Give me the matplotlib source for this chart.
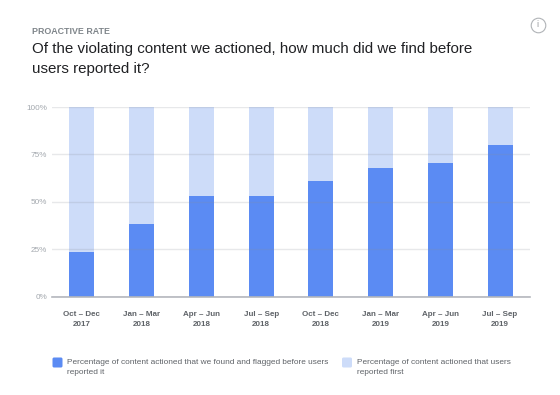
import matplotlib
matplotlib.use("Agg")
import matplotlib.pyplot as plt
from matplotlib.lines import Line2D
from matplotlib.patches import FancyBboxPatch
from matplotlib.transforms import IdentityTransform

plt.rcParams['font.family'] = ['Liberation Sans', 'DejaVu Sans']

# Quarter labels and values
quarters = ["Oct – Dec\n2017", "Jan – Mar\n2018", "Apr – Jun\n2018", "Jul – Sep\n2018",
            "Oct – Dec\n2018", "Jan – Mar\n2019", "Apr – Jun\n2019", "Jul – Sep\n2019"]
found_first = [23.6, 38, 53, 53, 60.7, 68, 70.6, 80]
reported_first = [76.4, 62, 47, 47, 39.3, 32, 29.4, 20]
y_ticks = [0, 25, 50, 75, 100]
y_labels = ["0%", "25%", "50%", "75%", "100%"]

W, H = 560, 395
dark_blue = "#5b8bf3"
light_blue = "#cddcf9"

fig = plt.figure(figsize=(W / 100, H / 100), dpi=100)
ax = fig.add_axes([52 / W, 1 - 296.5 / H, 478 / W, 189.5 / H])

x = list(range(len(quarters)))
ax.bar(x, found_first, width=0.42, color=dark_blue, zorder=2)
ax.bar(x, reported_first, width=0.42, bottom=found_first, color=light_blue, zorder=2)

ax.set_xlim(-0.5, 7.5)
ax.set_ylim(0, 100)
ax.set_yticks(y_ticks)
ax.set_yticklabels(y_labels, fontsize=5.9, color="#a3a8ae")
ax.set_xticks(x)
ax.set_xticklabels(quarters, fontsize=5.8, fontweight="bold", color="#5f6368", linespacing=1.4)
ax.tick_params(axis="both", length=0)
ax.tick_params(axis="x", pad=10.8)
ax.tick_params(axis="y", pad=3.5)
ax.grid(axis="y", color="#8a8f96", alpha=0.2, lw=1, zorder=3)
ax.set_axisbelow(False)
for side in ["top", "right", "left"]:
    ax.spines[side].set_visible(False)
ax.spines["bottom"].set_color("#b5b8bd")
ax.spines["bottom"].set_linewidth(1.2)


def px(xp, yp):
    return xp / W, 1 - yp / H


# Heading
fig.text(*px(32, 32), "PROACTIVE RATE", fontsize=6.4, fontweight="bold", color="#80868b", va="center")
fig.text(*px(32, 48.5), "Of the violating content we actioned, how much did we find before",
         fontsize=10.9, color="#202124", va="center")
fig.text(*px(32, 69), "users reported it?", fontsize=10.9, color="#202124", va="center")

# Info icon
fig.add_artist(Line2D([537.7 / W], [1 - 24.5 / H], marker="o", ms=10.5, mfc="white",
                      mec="#b0b3b7", mew=0.8, ls=""))
fig.text(*px(537.7, 24.5), "i", fontsize=6.5, color="#9a9da1", ha="center", va="center")

# Legend built by hand so the wrapped labels sit like the original
for left, colour in [(52.5, dark_blue), (342, light_blue)]:
    fig.add_artist(FancyBboxPatch((left + 1, H - 366.5), 8, 8, boxstyle="round,pad=1,rounding_size=1.5",
                                  transform=IdentityTransform(), facecolor=colour, edgecolor="none"))
fig.text(*px(67.3, 362.3), "Percentage of content actioned that we found and flagged before users",
         fontsize=5.95, color="#5f6368", va="center")
fig.text(*px(67.3, 373), "reported it", fontsize=5.95, color="#5f6368", va="center")
fig.text(*px(357, 362.3), "Percentage of content actioned that users",
         fontsize=5.95, color="#5f6368", va="center")
fig.text(*px(357, 373), "reported first", fontsize=5.95, color="#5f6368", va="center")

fig.savefig("out.png", dpi=100, facecolor="white")
